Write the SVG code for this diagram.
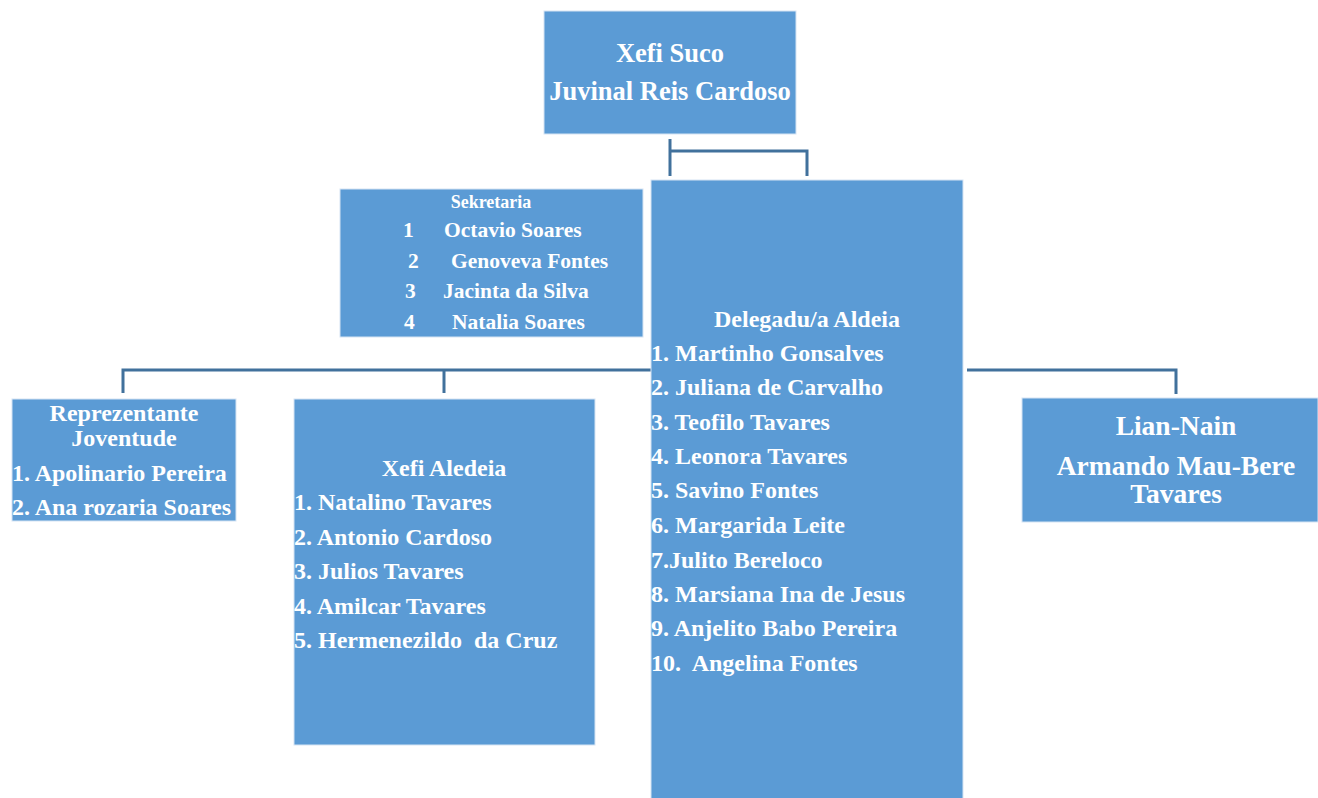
<svg xmlns="http://www.w3.org/2000/svg" width="1318" height="798" viewBox="0 0 1318 798">
<style>
.box{fill:#5b9bd5;stroke:#d6e4f3;stroke-width:1}
.t{font-family:"Liberation Serif","Times New Roman",serif;font-weight:bold;fill:#ffffff}
.c{text-anchor:middle}
.l{font-size:24px}
.s{font-size:21.5px}
.big{font-size:26.5px}
.lian{font-size:27.5px}
.conn{fill:none;stroke:#41719c;stroke-width:3}
</style>
<rect width="1318" height="798" fill="#ffffff"/>
<g id="connectors">
<polyline class="conn" points="670,139 670,176"/>
<polyline class="conn" points="670,151 807,151 807,176"/>
<polyline class="conn" points="123,393 123,370 651,370"/>
<polyline class="conn" points="444,370 444,393"/>
<polyline class="conn" points="967,370 1176,370 1176,394"/>
</g>
<g id="xefi-suco">
<rect class="box" x="544" y="11" width="252" height="123"/>
<text class="t c big" x="670" y="62">Xefi Suco</text>
<text class="t c big" x="670" y="100">Juvinal Reis Cardoso</text>
</g>
<g id="sekretaria">
<rect class="box" x="340" y="189" width="303" height="148"/>
<text class="t c" x="491" y="208" font-size="18">Sekretaria</text>
<text class="t s" x="403" y="237">1</text><text class="t s" x="444" y="237">Octavio Soares</text>
<text class="t s" x="408" y="268">2</text><text class="t s" x="451" y="268">Genoveva Fontes</text>
<text class="t s" x="405" y="298">3</text><text class="t s" x="443" y="298">Jacinta da Silva</text>
<text class="t s" x="404" y="329">4</text><text class="t s" x="452" y="329">Natalia Soares</text>
</g>
<g id="delegadu">
<rect class="box" x="651" y="180" width="312" height="625"/>
<text class="t c l" x="807" y="327">Delegadu/a Aldeia</text>
<text class="t l" x="651" y="361">1. Martinho Gonsalves</text>
<text class="t l" x="651" y="395">2. Juliana de Carvalho</text>
<text class="t l" x="651" y="430">3. Teofilo Tavares</text>
<text class="t l" x="651" y="464">4. Leonora Tavares</text>
<text class="t l" x="651" y="498">5. Savino Fontes</text>
<text class="t l" x="651" y="533">6. Margarida Leite</text>
<text class="t l" x="651" y="568">7.Julito Bereloco</text>
<text class="t l" x="651" y="602">8. Marsiana Ina de Jesus</text>
<text class="t l" x="651" y="636">9. Anjelito Babo Pereira</text>
<text class="t l" x="651" y="671" xml:space="preserve">10.  Angelina Fontes</text>
</g>
<g id="reprezentante">
<rect class="box" x="12" y="399" width="224" height="122"/>
<text class="t c l" x="124" y="421">Reprezentante</text>
<text class="t c l" x="124" y="446">Joventude</text>
<text class="t l" x="12" y="481">1. Apolinario Pereira</text>
<text class="t l" x="12" y="515">2. Ana rozaria Soares</text>
</g>
<g id="xefi-aldeia">
<rect class="box" x="294" y="399" width="301" height="346"/>
<text class="t c l" x="444" y="476">Xefi Aledeia</text>
<text class="t l" x="294" y="510">1. Natalino Tavares</text>
<text class="t l" x="294" y="545">2. Antonio Cardoso</text>
<text class="t l" x="294" y="579">3. Julios Tavares</text>
<text class="t l" x="294" y="614">4. Amilcar Tavares</text>
<text class="t l" x="294" y="648" xml:space="preserve">5. Hermenezildo  da Cruz</text>
</g>
<g id="lian-nain">
<rect class="box" x="1022" y="398" width="296" height="124"/>
<text class="t c lian" x="1176" y="435">Lian-Nain</text>
<text class="t c lian" x="1176" y="475">Armando Mau-Bere</text>
<text class="t c lian" x="1176" y="503">Tavares</text>
</g>
</svg>
